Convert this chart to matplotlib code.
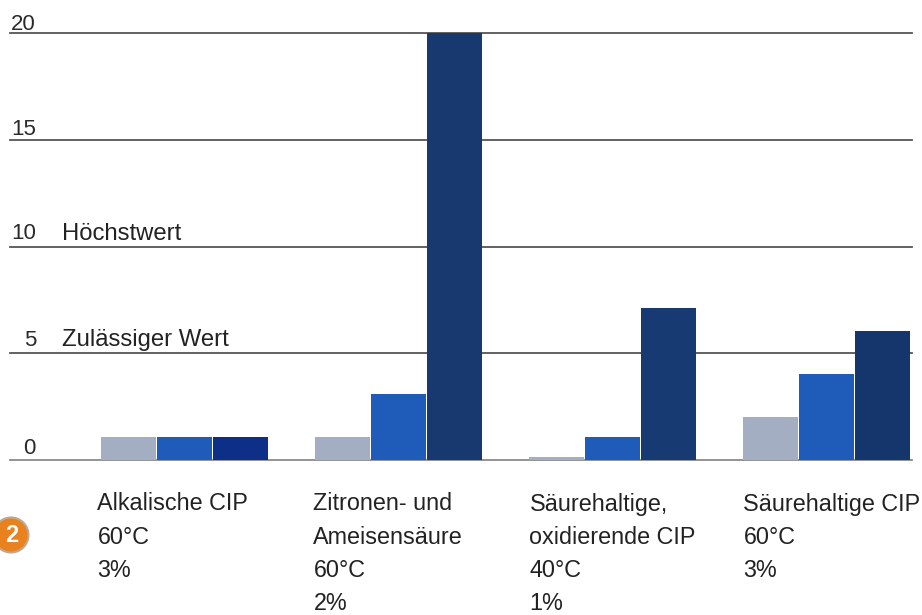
import matplotlib
matplotlib.use("Agg")
import matplotlib.pyplot as plt
from matplotlib.patches import Ellipse
import numpy as np

categories = [
    ["Alkalische CIP", "60°C", "3%"],
    ["Zitronen- und", "Ameisensäure", "60°C", "2%"],
    ["Säurehaltige,", "oxidierende CIP", "40°C", "1%"],
    ["Säurehaltige CIP", "60°C", "3%"],
]
series_grey = [1.1, 1.1, 0.15, 2.0]
series_blue = [1.1, 3.1, 1.1, 4.05]
series_dark = [1.1, 20.0, 7.1, 6.05]
dark_colors = ["#0E2F87", "#17396F", "#173A72", "#15366C"]
y_ticks = [0, 5, 10, 15, 20]
thresholds = {5: "Zulässiger Wert", 10: "Höchstwert"}

W, H = 922, 615
plt.rcParams["font.family"] = ["Liberation Sans", "DejaVu Sans"]
fig = plt.figure(figsize=(W / 100, H / 100), dpi=100, facecolor="white")
ax = fig.add_axes([10 / W, 1 - 460 / H, 902 / W, 427 / H])
ax.set_xlim(-0.815, 3.40)
ax.set_ylim(0, 20)
ax.axis("off")

# Horizontal reference lines behind the bars
for t in y_ticks:
    ax.axhline(t, color="#8A8A8A" if t == 0 else "#555555", lw=1.3, zorder=1, clip_on=False)

x = np.arange(len(categories))
step, width = 0.262, 0.254
ax.bar(x - step, series_grey, width, color="#A4AEC3", zorder=2)
ax.bar(x, series_blue, width, color="#1F5BB9", zorder=2)
ax.bar(x + step, series_dark, width, color=dark_colors, zorder=2)

# Value labels sit just above their lines, thresholds are named beside them
y_trans = ax.get_yaxis_transform()
label_lift = {0: 12, 5: 13, 10: 13, 15: 10, 20: 9}
for t in y_ticks:
    ax.annotate(str(t), (0, t), xycoords=y_trans, xytext=(26, label_lift[t]),
                textcoords="offset pixels", ha="right", va="center",
                fontsize=16, color="#2A2A2A")
for t, label in thresholds.items():
    ax.annotate(label, (0, t), xycoords=y_trans, xytext=(52, 13), textcoords="offset pixels",
                ha="left", va="center", fontsize=17.2, color="#222222")

# Category descriptions below the baseline
x_trans = ax.get_xaxis_transform()
text_shift = [-87, -85, -83, -83]
for xi, lines, dx in zip(x, categories, text_shift):
    for row, line in enumerate(lines):
        ax.annotate(line, (xi, 0), xycoords=x_trans, xytext=(dx, -44 - 33.3 * row),
                    textcoords="offset pixels", ha="left", va="center",
                    fontsize=16.8, color="#222222")

# Numbered badge at the left edge
badge = Ellipse((11 / W, 1 - 535 / H), 35 / W, 35 / H, transform=fig.transFigure,
                facecolor="#E8811E", edgecolor="#BFA88C", lw=1.5)
fig.add_artist(badge)
fig.text(12 / W, 1 - 536 / H, "2", color="white", fontsize=17, fontweight="bold",
         ha="center", va="center")

fig.savefig("out.png", dpi=100, facecolor="white")
